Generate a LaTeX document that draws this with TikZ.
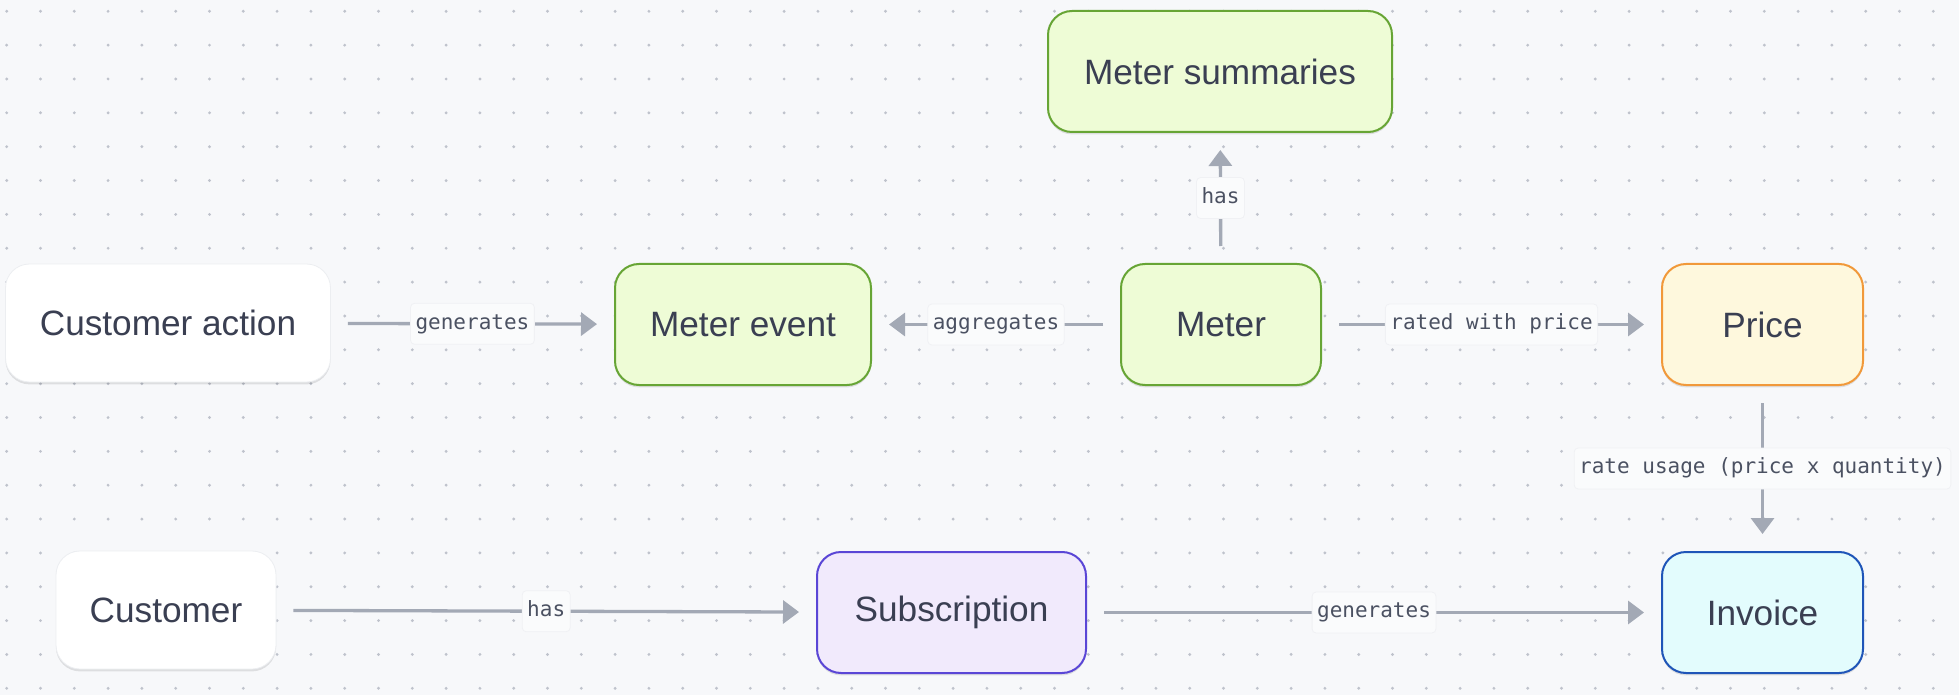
\documentclass[tikz,border=0pt]{standalone}
\usepackage{fontspec}
\setmainfont{Liberation Sans}
\newfontfamily\labelfont{DejaVu Sans Mono}
\usetikzlibrary{arrows.meta,shadows}
\definecolor{bg}{HTML}{F7F8FA}
\definecolor{dotc}{HTML}{BFC3CC}
\definecolor{txt}{HTML}{3A3F52}
\definecolor{lbltxt}{HTML}{4B5162}
\definecolor{lblbg}{HTML}{FAFBFC}
\definecolor{lblborder}{HTML}{F0F1F4}
\definecolor{arrowc}{HTML}{A3A9B5}
\definecolor{greenfill}{HTML}{EEFCD6}
\definecolor{greendraw}{HTML}{67A535}
\definecolor{pricefill}{HTML}{FEF8DD}
\definecolor{pricedraw}{HTML}{F1993A}
\definecolor{subfill}{HTML}{F1EAFC}
\definecolor{subdraw}{HTML}{5A46D6}
\definecolor{invfill}{HTML}{E3FCFD}
\definecolor{invdraw}{HTML}{1F55B8}
\definecolor{whiteborder}{HTML}{ECEEF1}
\begin{document}
\begin{tikzpicture}[x=0.5pt,y=-0.5pt,
  box/.style={rounded corners=12pt, align=center, font=\fontsize{17.6}{21}\selectfont,
    text=txt, minimum height=60.5pt, line width=1pt, inner sep=0pt,
    drop shadow={shadow xshift=0pt, shadow yshift=-1.2pt, opacity=0.10, fill=black}},
  whitebox/.style={box, fill=white, draw=whiteborder, line width=0.4pt, minimum height=59pt},
  greenbox/.style={box, fill=greenfill, draw=greendraw},
  pricebox/.style={box, fill=pricefill, draw=pricedraw},
  subbox/.style={box, fill=subfill, draw=subdraw},
  invbox/.style={box, fill=invfill, draw=invdraw},
  conn/.style={draw=arrowc, line width=1.65pt, -{Triangle[length=8pt,width=11.5pt]},
    shorten <=8.5pt, shorten >=8.5pt},
  lbl/.style={fill=lblbg, draw=lblborder, line width=0.4pt, rounded corners=2pt,
    font=\labelfont\fontsize{10.5}{12}\selectfont, text=lbltxt, inner xsep=2.5pt,
    inner ysep=0pt, minimum height=20.5pt, text height=7.6pt, text depth=2.2pt}]
\fill[bg] (0,0) rectangle (1959,695);
\useasboundingbox (0,0) rectangle (1959,695);
\foreach \i in {0,...,57} {
  \foreach \j in {0,...,20} {
    \fill[dotc] (6.7+33.8*\i, 11.3+33.85*\j) circle (0.8pt);
  }
}
\node[whitebox, minimum width=162.5pt] (cact) at (168,323) {Customer action};
\node[greenbox, minimum width=128pt] (mevent) at (743,324.5) {Meter event};
\node[greenbox, minimum width=100pt] (meter) at (1221,324.5) {Meter};
\node[greenbox, minimum width=172pt] (msum) at (1220,71.5) {Meter summaries};
\node[pricebox, minimum width=100.5pt] (price) at (1762.5,324.5) {Price};
\node[invbox, minimum width=100.5pt] (invoice) at (1762.5,612.5) {Invoice};
\node[subbox, minimum width=134.5pt] (subs) at (951.5,612.5) {Subscription};
\node[whitebox, minimum width=110pt] (cust) at (166,610) {Customer};

\draw[conn] (cact) -- node[lbl] {generates} (mevent);
\draw[conn] (meter) -- node[lbl] {aggregates} (mevent);
\draw[conn] (meter) -- node[lbl] {has} (msum);
\draw[conn] (meter) -- node[lbl] {rated with price} (price);
\draw[conn] (price) -- node[lbl] {rate usage (price x quantity)} (invoice);
\draw[conn] (cust) -- node[lbl] {has} (subs);
\draw[conn] (subs) -- node[lbl] {generates} (invoice);
\end{tikzpicture}
\end{document}
